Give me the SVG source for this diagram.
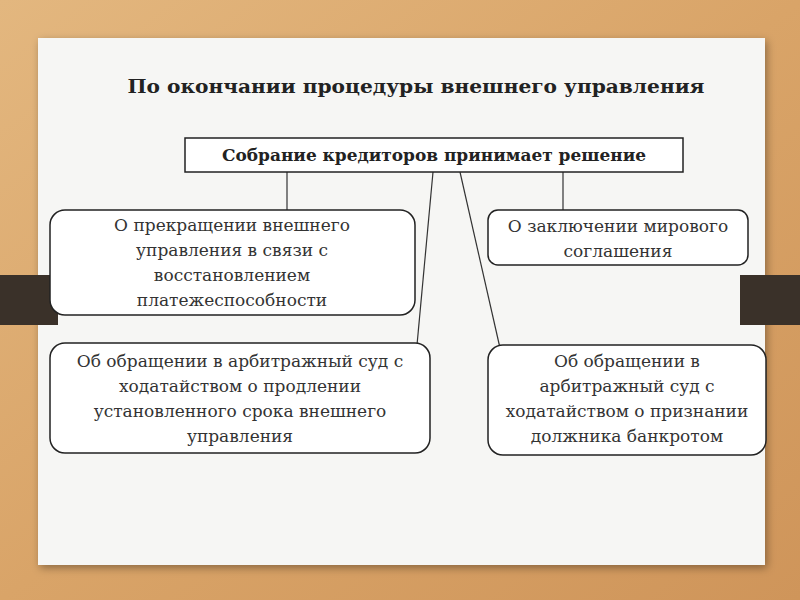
<svg xmlns="http://www.w3.org/2000/svg" width="800" height="600" viewBox="0 0 800 600">
<defs>
<linearGradient id="wood" x1="0" y1="0" x2="1" y2="1">
<stop offset="0" stop-color="#e3b77f"/><stop offset="0.5" stop-color="#d9a468"/><stop offset="1" stop-color="#cf955a"/>
</linearGradient>
<filter id="sh" x="-5%" y="-5%" width="110%" height="110%"><feDropShadow dx="2" dy="3" stdDeviation="4" flood-opacity="0.35"/></filter>
</defs>
<style>
.t{font-family:"DejaVu Serif","Liberation Serif",serif;font-size:17px;fill:#333;text-anchor:middle}
.b{font-weight:bold;fill:#222}
.box{fill:#fff;stroke:#222;stroke-width:1.5}
.c line{stroke:#333;stroke-width:1.2}
</style>
<rect width="800" height="600" fill="url(#wood)"/>
<rect x="38" y="38" width="727" height="527" fill="#f6f6f4" filter="url(#sh)"/>
<rect x="0" y="275" width="58" height="50" fill="#3a3129"/>
<rect x="740" y="275" width="60" height="50" fill="#3a3129"/>
<text class="t b" x="416" y="93" style="font-size:18px" textLength="577" lengthAdjust="spacingAndGlyphs">По окончании процедуры внешнего управления</text>
<g class="c">
<line x1="287" y1="172" x2="287" y2="212"/>
<line x1="563" y1="172" x2="563" y2="212"/>
<line x1="433" y1="172" x2="417" y2="345"/>
<line x1="460" y1="172" x2="500" y2="348"/>
</g>
<g id="top"><rect class="box" x="185" y="138" width="498" height="34"/><text class="t b" x="434" y="161" style="font-size:16px" textLength="424" lengthAdjust="spacingAndGlyphs">Собрание кредиторов принимает решение</text></g>
<g id="n1"><rect class="box" x="50" y="210" width="365" height="105" rx="15"/>
<text class="t" x="232" y="231">О прекращении  внешнего</text><text class="t" x="232" y="256">управления в связи с</text><text class="t" x="232" y="281">восстановлением</text><text class="t" x="232" y="306">платежеспособности</text></g>
<g id="n2"><rect class="box" x="488" y="210" width="260" height="55" rx="10"/>
<text class="t" x="618" y="232">О заключении мирового</text><text class="t" x="618" y="257">соглашения</text></g>
<g id="n3"><rect class="box" x="50" y="343" width="380" height="110" rx="15"/>
<text class="t" x="240" y="367">Об обращении в арбитражный суд с</text><text class="t" x="240" y="392">ходатайством о продлении</text><text class="t" x="240" y="417">установленного срока внешнего</text><text class="t" x="240" y="442">управления</text></g>
<g id="n4"><rect class="box" x="488" y="345" width="278" height="110" rx="15"/>
<text class="t" x="627" y="367">Об обращении в</text><text class="t" x="627" y="392">арбитражный суд с</text><text class="t" x="627" y="417">ходатайством о признании</text><text class="t" x="627" y="442">должника банкротом</text></g>
</svg>
